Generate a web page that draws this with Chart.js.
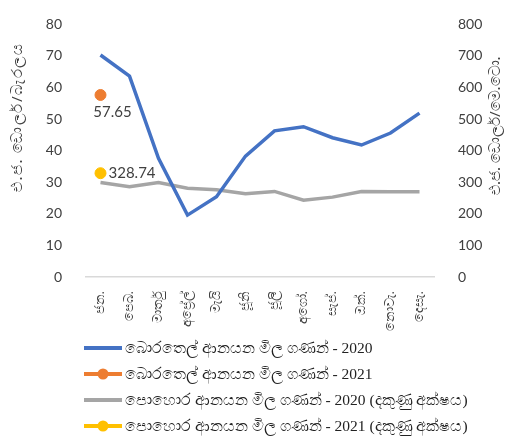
<!DOCTYPE html>
<html>
<head>
<meta charset="utf-8">
<script src="https://cdn.jsdelivr.net/npm/chart.js@4.4.0/dist/chart.umd.min.js"></script>
<style>
  body { margin: 0; background: #fff; }
  #wrap { position: relative; width: 509px; height: 439px; }
  #legend { position: absolute; left: 84px; top: 335px; font-family: "Liberation Serif", serif; font-size: 15.5px; color: #222; }
  #legend div { height: 26px; display: flex; align-items: center; }
  #legend canvas { margin-right: 3px; }
</style>
</head>
<body>
<div id="wrap">
  <canvas id="myChart" width="509" height="439"></canvas>
  <div id="legend"></div>
</div>
<script>
var months = ["ජන.", "පෙබ.", "මාර්තු", "අප්‍රේල්", "මැයි", "ජූනි", "ජූලි", "අගෝ.", "සැප්.", "ඔක්.", "නොවැ.", "දෙසැ."];
var oil2020 = [70.3, 63.6, 37.6, 19.6, 25.4, 38.3, 46.3, 47.6, 44.1, 41.8, 45.6, 51.9];
var oil2021 = [57.65, null, null, null, null, null, null, null, null, null, null, null];
var fert2020 = [299, 286, 299, 281, 276, 264, 271, 243, 253, 271, 270, 270];
var fert2021 = [328.74, null, null, null, null, null, null, null, null, null, null, null];
var seriesNames = [
  "බොරතෙල් ආනයන මිල ගණන් - 2020",
  "බොරතෙල් ආනයන මිල ගණන් - 2021",
  "පොහොර ආනයන මිල ගණන් - 2020 (දකුණු අක්ෂය)",
  "පොහොර ආනයන මිල ගණන් - 2021 (දකුණු අක්ෂය)"
];
var leftTitle = "එ.ජ. ඩොලර්/බැරලය";
var rightTitle = "එ.ජ. ඩොලර්/මෙ.ටො.";

var colors = ["#4472C4", "#ED7D31", "#A5A5A5", "#FFC000"];
var tickFont = { family: "Lato, 'Open Sans', sans-serif", size: 14 };

// draws axis titles (both read bottom to top) and the two value labels
var extras = {
  id: "extras",
  afterDraw: function(chart) {
    var c = chart.ctx;
    c.save();
    c.fillStyle = "#404040";
    c.font = "15px 'Noto Sans', sans-serif";
    c.textBaseline = "middle";
    c.textAlign = "left";
    c.save(); c.letterSpacing = "1.5px"; c.translate(18, 192); c.rotate(-Math.PI / 2); c.fillText(leftTitle, 0, 0); c.restore();
    c.save(); c.translate(496, 195); c.rotate(-Math.PI / 2); c.fillText(rightTitle, 0, 0); c.restore();

    c.font = "15px Lato, sans-serif";
    var p1 = chart.getDatasetMeta(1).data[0];
    c.textAlign = "center";
    c.fillText(oil2021[0].toFixed(2), p1.x + 12, p1.y + 17);
    var p3 = chart.getDatasetMeta(3).data[0];
    c.textAlign = "left";
    c.fillText(fert2021[0].toFixed(2), p3.x + 8, p3.y);
    c.restore();
  }
};

var ctx = document.getElementById("myChart");
var chart = new Chart(ctx, {
  type: "line",
  data: {
    labels: months,
    datasets: [
      { label: seriesNames[0], data: oil2020, yAxisID: "y", borderColor: colors[0], backgroundColor: colors[0], borderWidth: 3.5, pointRadius: 0 },
      { label: seriesNames[1], data: oil2021, yAxisID: "y", borderColor: colors[1], backgroundColor: colors[1], pointRadius: 5.5, showLine: false },
      { label: seriesNames[2], data: fert2020, yAxisID: "y1", borderColor: colors[2], backgroundColor: colors[2], borderWidth: 3.5, pointRadius: 0 },
      { label: seriesNames[3], data: fert2021, yAxisID: "y1", borderColor: colors[3], backgroundColor: colors[3], pointRadius: 5.5, showLine: false }
    ]
  },
  options: {
    responsive: false,
    animation: false,
    layout: { padding: { top: 11, left: 0, right: 0, bottom: 0 } },
    plugins: { legend: { display: false }, tooltip: { enabled: false } },
    scales: {
      x: {
        offset: true,
        grid: { display: false },
        border: { color: "#d9d9d9", width: 1.5 },
        ticks: { minRotation: 90, maxRotation: 90, padding: 6, color: "#404040", font: { family: "'Noto Sans', sans-serif", size: 13 } },
        afterFit: function(axis) { axis.height = 162; }
      },
      y: {
        position: "left",
        min: 0, max: 80,
        grid: { display: false },
        border: { display: false },
        ticks: { stepSize: 10, padding: 16, color: "#404040", font: tickFont },
        afterFit: function(axis) { axis.width = 86; }
      },
      y1: {
        position: "right",
        min: 0, max: 800,
        grid: { display: false },
        border: { display: false },
        ticks: { stepSize: 100, padding: 16, color: "#404040", font: tickFont },
        afterFit: function(axis) { axis.width = 75; }
      }
    }
  },
  plugins: [extras]
});

// legend with a line sample, plus a dot for the single-point series
var legend = document.getElementById("legend");
chart.data.datasets.forEach(function(ds) {
  var row = document.createElement("div");
  var sw = document.createElement("canvas");
  sw.width = 38; sw.height = 14;
  var g = sw.getContext("2d");
  g.strokeStyle = ds.borderColor;
  g.lineWidth = 4;
  g.beginPath(); g.moveTo(0, 7); g.lineTo(38, 7); g.stroke();
  if (ds.showLine === false) {
    g.fillStyle = ds.backgroundColor;
    g.beginPath(); g.arc(19, 7, 5.5, 0, Math.PI * 2); g.fill();
  }
  row.appendChild(sw);
  var span = document.createElement("span");
  span.textContent = ds.label;
  row.appendChild(span);
  legend.appendChild(row);
});
</script>
</body>
</html>
